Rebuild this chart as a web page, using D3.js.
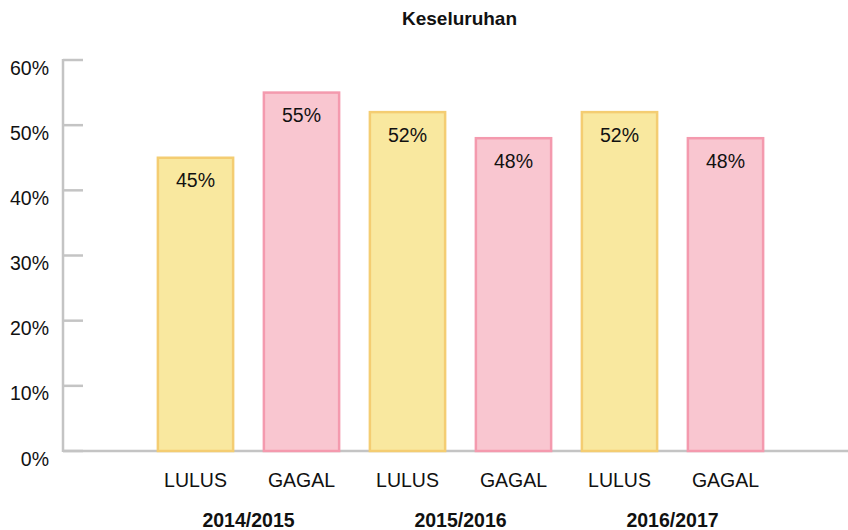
<!DOCTYPE html>
<html>
<head>
<meta charset="utf-8">
<script src="https://cdn.jsdelivr.net/npm/d3@7"></script>
<style>
  body { margin: 0; background: #fff; }
  text { font-family: "Liberation Sans", Arial, sans-serif; fill: #111; }
</style>
</head>
<body>
<figure id="chart" style="margin:0"></figure>
<script>
// data
var years = ["2014/2015", "2015/2016", "2016/2017"];
var statuses = ["LULUS", "GAGAL"];
var values = [45, 55, 52, 48, 52, 48];
var yTicks = [0, 10, 20, 30, 40, 50, 60];

var width = 848, height = 530;

var svg = d3.select("#chart")
  .append("svg")
  .attr("width", width)
  .attr("height", height);

// one bar per year/status pair
var bars = [];
years.forEach(function(yr, i) {
  statuses.forEach(function(s, j) {
    bars.push({ year: yr, status: s, value: values[i * 2 + j], idx: i * 2 + j });
  });
});

var x = d3.scaleBand()
  .domain(d3.range(bars.length))
  .range([142.5, 778.5])
  .paddingInner(0.29)
  .paddingOuter(0.145);

var y = d3.scaleLinear()
  .domain([0, 60])
  .range([451, 60]);

var fills = { LULUS: "#f9e89f", GAGAL: "#f9c6d0" };
var strokes = { LULUS: "#f4cd72", GAGAL: "#f49aae" };

// title
svg.append("text")
  .attr("x", 459.5)
  .attr("y", 25)
  .attr("text-anchor", "middle")
  .style("font-weight", "bold")
  .style("font-size", "19px")
  .text("Keseluruhan");

// y axis: line + inward ticks
var axisG = svg.append("g");
axisG.append("line")
  .attr("x1", 63).attr("x2", 63)
  .attr("y1", y(60) - 1).attr("y2", y(0) + 1)
  .attr("stroke", "#c4c4c4").attr("stroke-width", 2.5);

axisG.selectAll("line.tick")
  .data(yTicks)
  .enter()
  .append("line")
  .attr("class", "tick")
  .attr("x1", 63).attr("x2", 83)
  .attr("y1", function(d) { return y(d); })
  .attr("y2", function(d) { return y(d); })
  .attr("stroke", "#c4c4c4").attr("stroke-width", 2.5);

axisG.selectAll("text")
  .data(yTicks)
  .enter()
  .append("text")
  .attr("x", 49)
  .attr("y", function(d) { return y(d) + 14.5; })
  .attr("text-anchor", "end")
  .style("font-size", "19.5px")
  .text(function(d) { return d + "%"; });

// baseline
svg.append("line")
  .attr("x1", 63).attr("x2", width)
  .attr("y1", y(0)).attr("y2", y(0))
  .attr("stroke", "#c4c4c4").attr("stroke-width", 2.5);

// bars
svg.selectAll("rect.bar")
  .data(bars)
  .enter()
  .append("rect")
  .attr("class", "bar")
  .attr("x", function(d) { return x(d.idx); })
  .attr("y", function(d) { return y(d.value); })
  .attr("width", x.bandwidth())
  .attr("height", function(d) { return y(0) - y(d.value); })
  .attr("fill", function(d) { return fills[d.status]; })
  .attr("stroke", function(d) { return strokes[d.status]; })
  .attr("stroke-width", 2.5);

// value labels inside bars
svg.selectAll("text.val")
  .data(bars)
  .enter()
  .append("text")
  .attr("class", "val")
  .attr("x", function(d) { return x(d.idx) + x.bandwidth() / 2; })
  .attr("y", function(d) { return y(d.value) + 29.5; })
  .attr("text-anchor", "middle")
  .style("font-size", "19.5px")
  .text(function(d) { return d.value + "%"; });

// category labels
svg.selectAll("text.cat")
  .data(bars)
  .enter()
  .append("text")
  .attr("class", "cat")
  .attr("x", function(d) { return x(d.idx) + x.bandwidth() / 2; })
  .attr("y", 487)
  .attr("text-anchor", "middle")
  .style("font-size", "19.5px")
  .text(function(d) { return d.status; });

// year group labels
svg.selectAll("text.year")
  .data(years)
  .enter()
  .append("text")
  .attr("class", "year")
  .attr("x", function(d, i) { return (x(i * 2) + x(i * 2 + 1) + x.bandwidth()) / 2; })
  .attr("y", 527)
  .attr("text-anchor", "middle")
  .style("font-weight", "bold")
  .style("font-size", "19.5px")
  .text(function(d) { return d; });
</script>
</body>
</html>
